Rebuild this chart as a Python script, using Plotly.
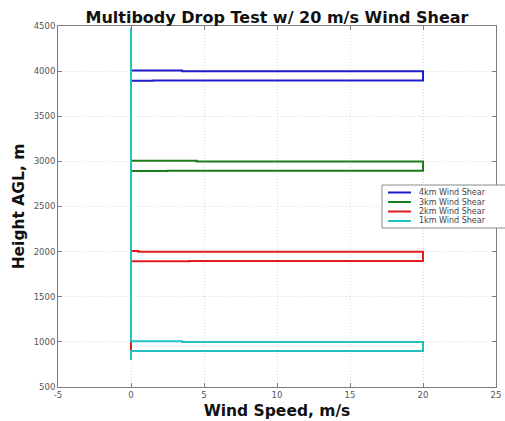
import plotly.graph_objects as go

# Wind-shear profiles: wind speed (m/s) vs height above ground (m)
series_names = ["4km Wind Shear", "3km Wind Shear", "2km Wind Shear", "1km Wind Shear"]
series_colors = ["#1c1cc8", "#1a7d1a", "#e01c1c", "#22c0c0"]

speed_4km = [0, 0, 3.5, 3.5, 20, 20, 1.5, 1.5, 0, 0]
height_4km = [4470, 4008, 4008, 4000, 4000, 3895, 3895, 3892, 3892, 800]
speed_3km = [0, 0, 4.5, 4.5, 20, 20, 2.5, 2.5, 0, 0]
height_3km = [4470, 3008, 3008, 3000, 3000, 2895, 2895, 2892, 2892, 800]
speed_2km = [0, 0, 0.5, 0.5, 20, 20, 4.0, 4.0, 0, 0]
height_2km = [4470, 2008, 2008, 2000, 2000, 1895, 1895, 1892, 1892, 800]
speed_1km = [0, 0, 3.5, 3.5, 20, 20, 0, 0]
height_1km = [4470, 1008, 1008, 1000, 1000, 900, 900, 800]

speeds = [speed_4km, speed_3km, speed_2km, speed_1km]
heights = [height_4km, height_3km, height_2km, height_1km]

x_ticks = [-5, 0, 5, 10, 15, 20, 25]
y_ticks = [500, 1000, 1500, 2000, 2500, 3000, 3500, 4000, 4500]

W, H = 505, 421
ML, MR, MT, MB = 58, 9, 26, 34

fig = go.Figure()
for name, color, xs, ys in zip(series_names, series_colors, speeds, heights):
    fig.add_trace(go.Scatter(
        x=xs, y=ys, mode="lines", name=name,
        line=dict(color=color, width=2), showlegend=False,
    ))

axis_common = dict(
    automargin=False,
    showline=True, linecolor="#7a7a7a", linewidth=1, mirror="ticks",
    ticks="inside", ticklen=4, tickcolor="#7a7a7a",
    showgrid=True, gridcolor="#d9d9d9", griddash="1px,2px", gridwidth=1,
    zeroline=False,
    tickfont=dict(family="DejaVu Sans", size=8.5, color="#555555"),
)
title_font = dict(family="DejaVu Sans", size=15.5, color="#111111", weight="bold")

fig.update_xaxes(range=[-5, 25], tickvals=x_ticks, ticktext=[str(v) for v in x_ticks],
                 title=dict(text="Wind Speed, m/s", standoff=5, font=title_font),
                 **axis_common)
fig.update_yaxes(range=[500, 4500], tickvals=y_ticks, ticktext=[str(v) for v in y_ticks],
                 title=dict(text="Height AGL, m", standoff=5, font=title_font),
                 **axis_common)

# Compact legend box in the style of the original figure
pw, ph = W - ML - MR, H - MT - MB
def px_x(p):
    return (p - ML) / pw
def px_y(p):
    return (H - MB - p) / ph

shapes = [dict(type="rect", xref="paper", yref="paper",
               x0=px_x(382), x1=px_x(530), y0=px_y(228), y1=px_y(185),
               line=dict(color="#8a8a8a", width=1), fillcolor="white", layer="above")]
annotations = []
row_y = [192.5, 202, 211.5, 221]
for name, color, ry in zip(series_names, series_colors, row_y):
    shapes.append(dict(type="line", xref="paper", yref="paper",
                       x0=px_x(388), x1=px_x(411), y0=px_y(ry), y1=px_y(ry),
                       line=dict(color=color, width=2), layer="above"))
    annotations.append(dict(xref="paper", yref="paper", x=px_x(417), y=px_y(ry),
                            text=name, showarrow=False, xanchor="left", yanchor="middle",
                            font=dict(family="DejaVu Sans", size=8, color="#444444")))

fig.update_layout(
    width=W, height=H,
    margin=dict(l=ML, r=MR, t=MT, b=MB, autoexpand=False),
    paper_bgcolor="white", plot_bgcolor="white",
    title=dict(text="Multibody Drop Test w/ 20 m/s Wind Shear",
               x=0.5, xanchor="center", xref="paper",
               y=1 - 17 / H, yanchor="middle", yref="container",
               font=dict(family="DejaVu Sans", size=16, color="#111111", weight="bold")),
    shapes=shapes, annotations=annotations,
)

fig.write_html("out.html")
